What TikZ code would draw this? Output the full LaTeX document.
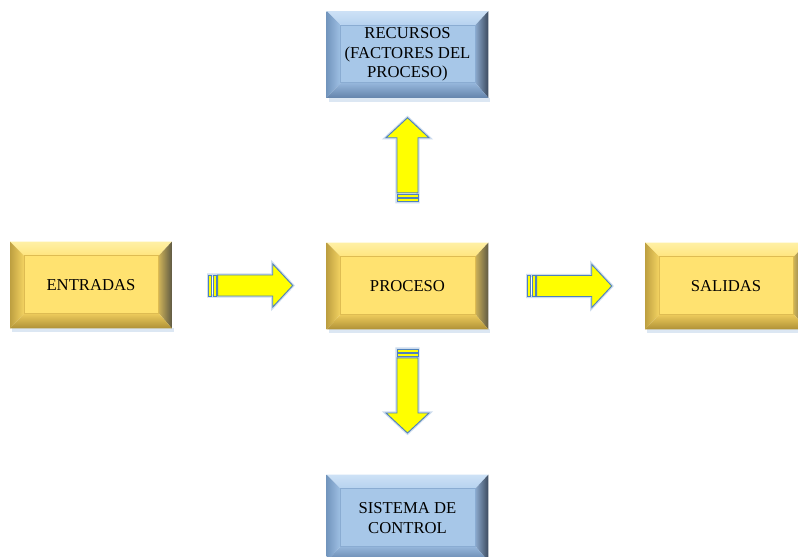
\documentclass[tikz,border=0pt]{standalone}
\usepackage{fontspec}
\setmainfont{Liberation Serif}
\usetikzlibrary{calc,backgrounds}

% yellow bevelled boxes
\definecolor{yface}{RGB}{255,226,112}
\definecolor{ytopA}{RGB}{255,240,165}
\definecolor{ytopB}{RGB}{255,229,125}
\definecolor{yleftA}{RGB}{190,160,65}
\definecolor{yleftB}{RGB}{245,212,98}
\definecolor{yrightA}{RGB}{95,90,68}
\definecolor{yrightB}{RGB}{205,178,88}
\definecolor{ybotA}{RGB}{175,145,55}
\definecolor{ybotB}{RGB}{238,204,92}
\definecolor{yedge}{RGB}{222,188,82}
% blue bevelled boxes
\definecolor{bface}{RGB}{167,199,232}
\definecolor{btopA}{RGB}{205,225,246}
\definecolor{btopB}{RGB}{182,210,239}
\definecolor{bleftA}{RGB}{115,150,190}
\definecolor{bleftB}{RGB}{160,193,229}
\definecolor{brightA}{RGB}{60,75,95}
\definecolor{brightB}{RGB}{138,168,204}
\definecolor{bbotA}{RGB}{100,132,172}
\definecolor{bbotB}{RGB}{150,183,220}
\definecolor{bedge}{RGB}{138,172,210}
% block arrows
\definecolor{arrowfill}{RGB}{255,255,0}
\definecolor{arrowline}{RGB}{79,129,189}
\definecolor{arrowglow}{RGB}{205,220,238}

% bevel drawn under a named node; #2 is the colour prefix (y or b)
\newcommand\bevelbox[2]{%
  \begin{scope}[on background layer]
    \clip (0,0) rectangle (798,556);
    \coordinate (bvA) at (#1.north west);
    \coordinate (bvB) at (#1.north east);
    \coordinate (bvC) at (#1.south east);
    \coordinate (bvD) at (#1.south west);
    \coordinate (bvAi) at ($(bvA)+(14,14)$);
    \coordinate (bvBi) at ($(bvB)+(-13,14)$);
    \coordinate (bvCi) at ($(bvC)+(-13,-15)$);
    \coordinate (bvDi) at ($(bvD)+(14,-15)$);
    \fill[arrowglow!70] ($(bvD)+(2,0)$) rectangle ($(bvC)+(2,4)$);
    \shade[top color=#2topA, bottom color=#2topB] (bvA) -- (bvB) -- (bvBi) -- (bvAi) -- cycle;
    \shade[left color=#2leftA, right color=#2leftB] (bvA) -- (bvAi) -- (bvDi) -- (bvD) -- cycle;
    \shade[left color=#2rightB, right color=#2rightA] (bvB) -- (bvC) -- (bvCi) -- (bvBi) -- cycle;
    \shade[top color=#2botB, bottom color=#2botA] (bvD) -- (bvDi) -- (bvCi) -- (bvC) -- cycle;
    \fill[#2face] (bvAi) rectangle (bvCi);
    \draw[#2edge, line width=0.6pt] (bvAi) rectangle (bvCi);
  \end{scope}}

\tikzset{
  boxlabel/.style={inner sep=0pt, minimum width=120.75pt, minimum height=64.5pt,
    align=center, font=\fontsize{12.5}{14.6}\selectfont},
  pics/stripearrow/.style={code={
    \begin{scope}[line join=miter]
      \draw[arrowglow, line width=2.4pt]
        (-42,-10.5) -- (22,-10.5) -- (22,-21.5) -- (42,0) -- (22,21.5) -- (22,10.5) -- (-42,10.5) -- cycle;
      \filldraw[fill=arrowfill, draw=arrowline, line width=0.7pt]
        (-42,-10.5) rectangle (-39,10.5);
      \filldraw[fill=arrowfill, draw=arrowline, line width=0.7pt]
        (-37.7,-10.5) rectangle (-34.4,10.5);
      \filldraw[fill=arrowfill, draw=arrowline, line width=0.7pt]
        (-33.2,-10.5) -- (22,-10.5) -- (22,-21.5) -- (42,0) -- (22,21.5) -- (22,10.5) -- (-33.2,10.5) -- cycle;
    \end{scope}}}
}

\begin{document}
\begin{tikzpicture}[x=0.75pt, y=-0.75pt]
  \begin{scope}[on background layer]
    \fill[white] (0,0) rectangle (798,556);
  \end{scope}
  \useasboundingbox (0,0) rectangle (798,556);

  % boxes
  \node[boxlabel] (recursos) at (407.5,54.5) {RECURSOS\\(FACTORES DEL\\PROCESO)};
  \node[boxlabel] (entradas) at (91,285) {ENTRADAS};
  \node[boxlabel] (proceso)  at (407.5,286) {PROCESO};
  \node[boxlabel] (salidas)  at (726,286) {SALIDAS};
  \node[boxlabel] (sistema)  at (407.5,518) {SISTEMA DE\\CONTROL};

  \bevelbox{recursos}{b}
  \bevelbox{entradas}{y}
  \bevelbox{proceso}{y}
  \bevelbox{salidas}{y}
  \bevelbox{sistema}{b}

  % striped block arrows between the boxes
  \pic at ($(entradas.east)!0.5!(proceso.west)+(1.5,0)$) {stripearrow};
  \pic at ($(proceso.east)!0.5!(salidas.west)+(3,0)$) {stripearrow};
  \pic[rotate=90] at ($(proceso.north)!0.5!(recursos.south)+(0,-10.5)$) {stripearrow};
  \pic[rotate=-90] at ($(proceso.south)!0.5!(sistema.north)+(0,-11)$) {stripearrow};
\end{tikzpicture}
\end{document}
